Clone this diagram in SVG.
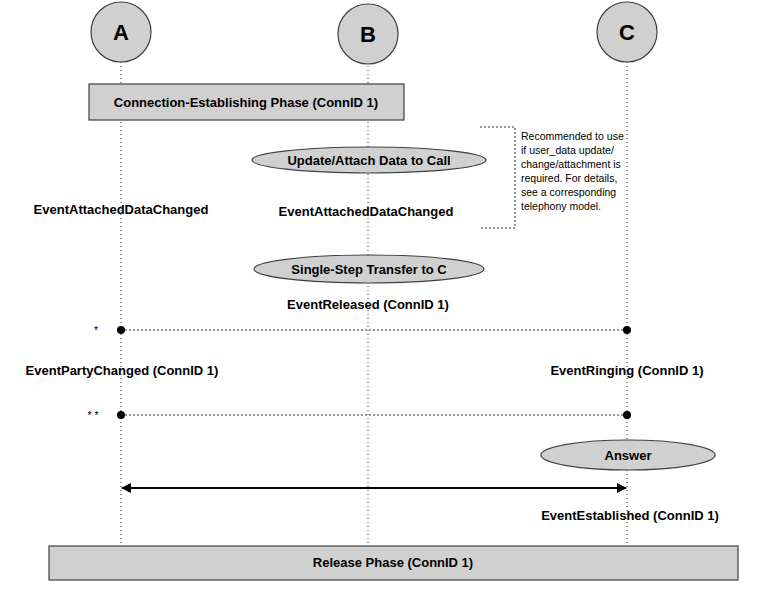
<svg xmlns="http://www.w3.org/2000/svg" width="766" height="600" viewBox="0 0 766 600">
<style>
.t{font-family:"Liberation Sans",Arial,sans-serif;font-weight:bold;font-size:13px;fill:#000;text-anchor:middle}
.n{font-family:"Liberation Sans",Arial,sans-serif;font-size:10.5px;fill:#000}
.sh{fill:#d0d0d0;stroke:#404040;stroke-width:1.2}
.ll{stroke:#333;stroke-width:1;stroke-dasharray:1,3;fill:none}
.dl{stroke:#333;stroke-width:1;stroke-dasharray:2,2;fill:none}
</style>
<defs>
<marker id="ah" markerWidth="10" markerHeight="10" refX="9" refY="5" orient="auto-start-reverse" markerUnits="userSpaceOnUse"><path d="M0,0 L10,5 L0,10 z" fill="#000"/></marker>
</defs>
<rect width="766" height="600" fill="#fff"/>
<g id="lifelines">
<line class="ll" x1="121" y1="62" x2="121" y2="546"/>
<line class="ll" x1="368" y1="62" x2="368" y2="546"/>
<line class="ll" x1="627" y1="62" x2="627" y2="546"/>
</g>
<g id="A"><ellipse class="sh" cx="121" cy="32" rx="30" ry="30"/><text class="t" x="121" y="40" style="font-size:22px">A</text></g>
<g id="B"><ellipse class="sh" cx="368" cy="34" rx="30" ry="30"/><text class="t" x="368" y="42" style="font-size:22px">B</text></g>
<g id="C"><ellipse class="sh" cx="627" cy="32" rx="30" ry="30"/><text class="t" x="627" y="40" style="font-size:22px">C</text></g>
<g id="conn"><rect class="sh" x="89" y="84" width="315" height="36"/><text class="t" x="246" y="107">Connection-Establishing Phase (ConnID 1)</text></g>
<g id="update"><ellipse class="sh" cx="369" cy="160" rx="117" ry="13"/><text class="t" x="369" y="165">Update/Attach Data to Call</text></g>
<g id="evA1"><text class="t" x="121" y="214">EventAttachedDataChanged</text></g>
<g id="evB1"><text class="t" x="366" y="216">EventAttachedDataChanged</text></g>
<g id="note">
<path class="dl" d="M480,127 H515 V228 H480"/>
<text class="n" x="521" y="140">Recommended to use</text>
<text class="n" x="521" y="154">if user_data update/</text>
<text class="n" x="521" y="168">change/attachment is</text>
<text class="n" x="521" y="182">required.  For details,</text>
<text class="n" x="521" y="196">see a corresponding</text>
<text class="n" x="521" y="210">telephony model.</text>
</g>
<g id="sst"><ellipse class="sh" cx="369" cy="269" rx="115" ry="14"/><text class="t" x="369" y="274">Single-Step Transfer to C</text></g>
<g id="evRel"><text class="t" x="368" y="309">EventReleased (ConnID 1)</text></g>
<g id="evParty"><text class="t" x="122" y="375">EventPartyChanged (ConnID 1)</text></g>
<g id="evRing"><text class="t" x="627" y="375">EventRinging (ConnID 1)</text></g>
<g id="answer"><ellipse class="sh" cx="628" cy="455" rx="87" ry="15"/><text class="t" x="628" y="460">Answer</text></g>
<g id="evEst"><text class="t" x="630" y="520">EventEstablished (ConnID 1)</text></g>
<g id="release"><rect class="sh" x="49" y="546" width="689" height="34"/><text class="t" x="393" y="567">Release Phase (ConnID 1)</text></g>
<g id="connectors">
<line class="dl" x1="121" y1="330" x2="627" y2="330"/>
<circle cx="121" cy="330" r="4" fill="#000"/><circle cx="627" cy="330" r="4" fill="#000"/>
<text class="n" x="96" y="334" text-anchor="middle">*</text>
<line class="dl" x1="121" y1="415" x2="627" y2="415"/>
<circle cx="121" cy="415" r="4" fill="#000"/><circle cx="627" cy="415" r="4" fill="#000"/>
<text class="n" x="93" y="419" text-anchor="middle">* *</text>
<line x1="122" y1="488" x2="626" y2="488" stroke="#000" stroke-width="2" marker-start="url(#ah)" marker-end="url(#ah)"/>
</g>
</svg>
